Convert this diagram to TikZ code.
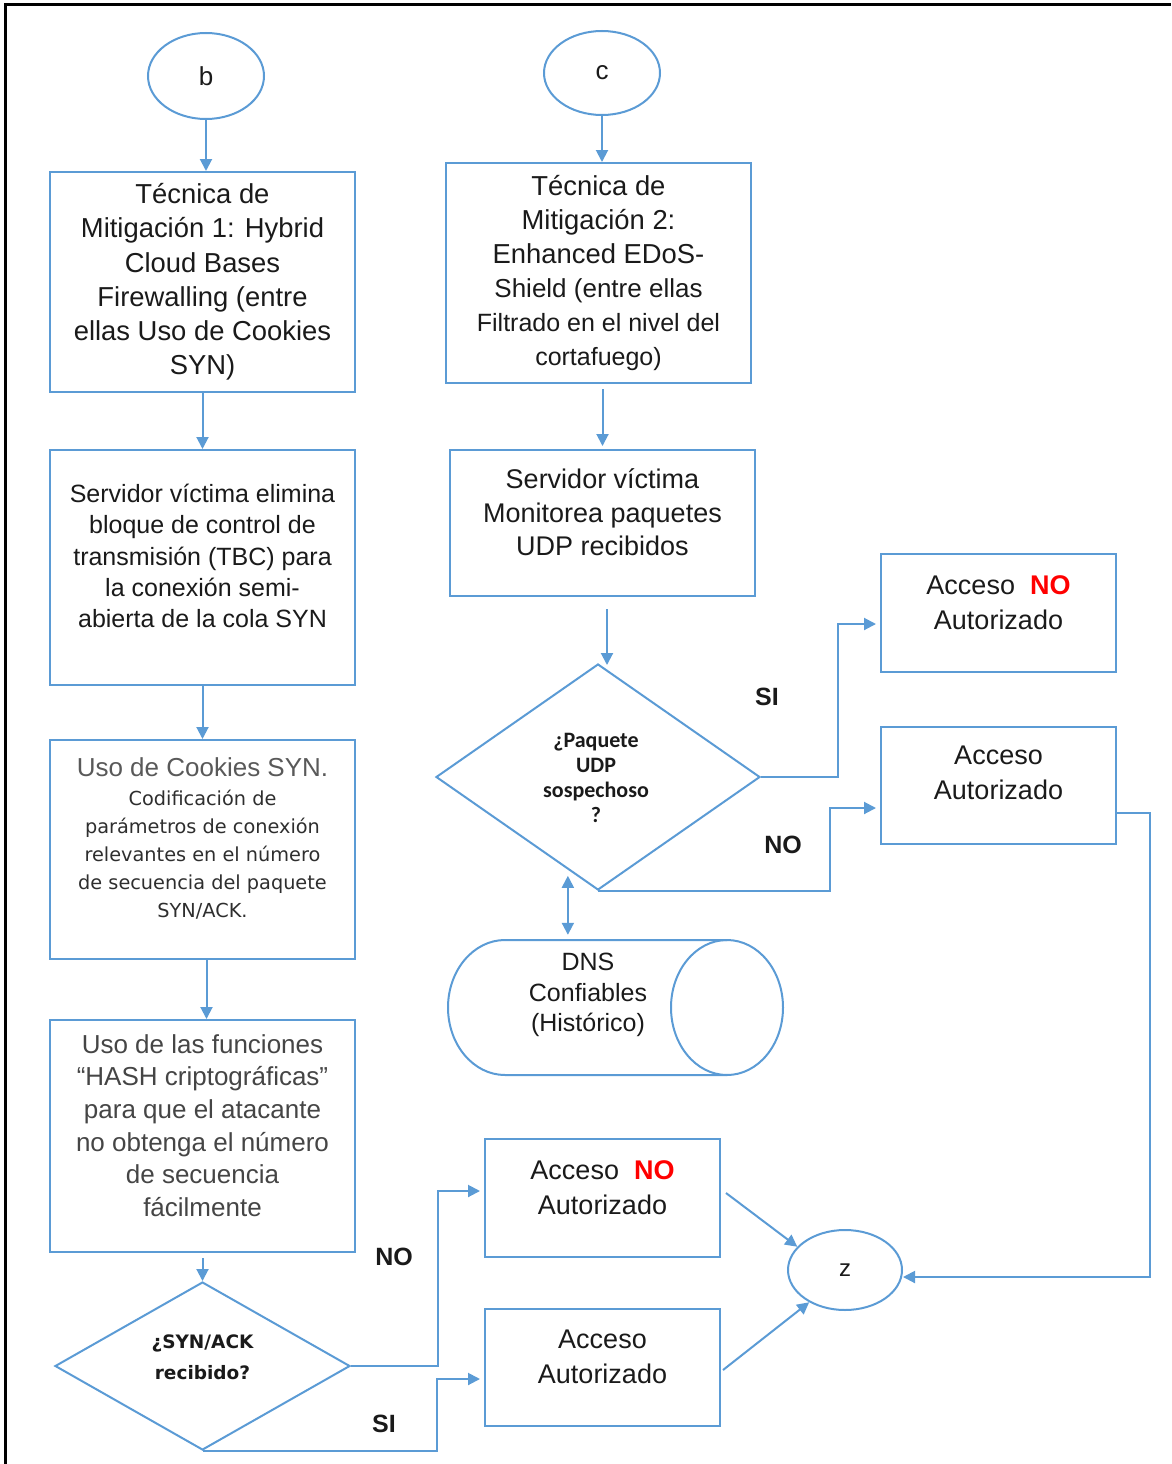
\documentclass[tikz,border=0pt]{standalone}
\usepackage{fontspec}
\setmainfont{Liberation Sans}
\newfontfamily\dejavu{DejaVu Sans}
\newfontfamily\carlito{Carlito}
\usetikzlibrary{arrows.meta,shapes.geometric,calc}
\definecolor{flow}{HTML}{5B9BD5}
\definecolor{ink}{HTML}{1A1A1A}
\definecolor{greyA}{HTML}{595959}
\definecolor{greyB}{HTML}{2E2E2E}
\definecolor{greyC}{HTML}{454545}
\definecolor{alarm}{HTML}{FF0000}

\begin{document}
\begin{tikzpicture}[x=1pt,y=-1pt,
  ln/.style={draw=flow,line width=2pt},
  arr/.style={ln,-{Triangle[length=12pt,width=12pt]}},
  dbl/.style={ln,{Triangle[length=12pt,width=12pt]}-{Triangle[length=12pt,width=12pt]}},
  proc/.style={rectangle,draw=flow,line width=2pt,inner sep=0pt},
  term/.style={ellipse,draw=flow,line width=2pt,inner sep=0pt,text=ink,
    font=\fontsize{26}{30}\selectfont},
  decis/.style={diamond,draw=flow,line width=2pt,inner sep=0pt},
  txt/.style={align=center,inner sep=0pt,text=ink},
  lbl/.style={inner sep=0pt,text=ink,font=\bfseries\fontsize{25}{28}\selectfont}
]
\useasboundingbox (0,0) rectangle (1171,1464);

% page frame (top and left edges)
\draw[black,line width=3pt] (5,1464) -- (5,5) -- (1171,5);

% ---------------- left column ----------------
\node[term,minimum width=116pt,minimum height=86pt] (b) at (206,76) {b};

\node[proc,minimum width=305pt,minimum height=220pt] (t1) at (202.5,282) {};
\node[txt,font=\fontsize{27.4}{34.2}\selectfont] (t1t) at (202.5,282)
  {Técnica de\\Mitigación 1: Hybrid\\Cloud Bases\\Firewalling (entre\\ellas Uso de Cookies\\SYN)};

\node[proc,minimum width=305pt,minimum height=235pt] (s1) at (202.5,567.5) {};
\node[txt,font=\fontsize{25}{31.2}\selectfont] (s1t) at (202.5,556)
  {Servidor víctima elimina\\bloque de control de\\transmisión (TBC) para\\la conexión semi-\\abierta de la cola SYN};

\node[proc,minimum width=305pt,minimum height=219pt] (cs) at (202.5,849.5) {};
\node[txt,text=greyB,font=\dejavu\fontsize{19.3}{28}\selectfont] (cst) at (202.5,838)
  {{\rmfamily\fontsize{26}{30}\selectfont\color{greyA}Uso de Cookies SYN.}\\[1pt]
   Codificación de\\parámetros de conexión\\relevantes en el número\\de secuencia del paquete\\SYN/ACK.};

\node[proc,minimum width=305pt,minimum height=232pt] (hs) at (202.5,1136) {};
\node[txt,text=greyC,font=\fontsize{26}{32.6}\selectfont] (hst) at (202.5,1125.5)
  {Uso de las funciones\\“HASH criptográficas”\\para que el atacante\\no obtenga el número\\de secuencia\\fácilmente};

\node[decis,minimum width=295pt,minimum height=168pt] (d1) at (202.5,1366) {};
\node[txt,font=\dejavu\bfseries\fontsize{18.5}{31}\selectfont] (d1t) at (202.5,1357)
  {¿SYN/ACK\\recibido?};

\node[proc,minimum width=235pt,minimum height=118pt] (acn2) at (602.5,1198) {};
\node[txt,font=\fontsize{27}{35}\selectfont] (acn2t) at (602.5,1187.5)
  {Acceso\ \ {\bfseries\color{alarm}NO}\\Autorizado};

\node[proc,minimum width=235pt,minimum height=117pt] (acc2) at (602.5,1367.5) {};
\node[txt,font=\fontsize{27}{35}\selectfont] (acc2t) at (602.5,1356.5)
  {Acceso\\Autorizado};

\node[lbl] (no1) at (394,1257) {NO};
\node[lbl] (si1) at (384,1424) {SI};

% ---------------- right column ----------------
\node[term,minimum width=116pt,minimum height=84pt] (c) at (602,73) {c};

\node[proc,minimum width=305pt,minimum height=220pt] (t2) at (598.5,273) {};
\node[txt,font=\fontsize{27.4}{34}\selectfont] (t2t) at (598.5,273)
  {Técnica de\\Mitigación 2:\\Enhanced EDoS-\\{\fontsize{26}{34}\selectfont Shield (entre ellas}\\
   {\fontsize{25}{33}\selectfont Filtrado en el nivel del}\\{\fontsize{25}{32}\selectfont cortafuego)}};

\node[proc,minimum width=305pt,minimum height=146pt] (s2) at (602.5,523) {};
\node[txt,font=\fontsize{27}{33.5}\selectfont] (s2t) at (602.5,512.5)
  {Servidor víctima\\Monitorea paquetes\\UDP recibidos};

\node[decis,minimum width=324pt,minimum height=226pt] (d2) at (598,777) {};
\node[txt,font=\carlito\bfseries\fontsize{22}{25}\selectfont] (d2t) at (596,778)
  {¿Paquete\\UDP\\sospechoso\\?};

\node[proc,minimum width=235pt,minimum height=118pt] (acn1) at (998.5,613) {};
\node[txt,font=\fontsize{27}{35}\selectfont] (acn1t) at (998.5,602.5)
  {Acceso\ \ {\bfseries\color{alarm}NO}\\Autorizado};

\node[proc,minimum width=235pt,minimum height=117pt] (acc1) at (998.5,785.5) {};
\node[txt,font=\fontsize{27}{35}\selectfont] (acc1t) at (998.5,772.5)
  {Acceso\\Autorizado};

\node[lbl] (si2) at (767,697) {SI};
\node[lbl] (no2) at (783,845) {NO};

% trusted DNS store, drawn as a lying cylinder
\node[inner sep=0pt,minimum width=335pt,minimum height=135pt] (dns) at (615.5,1007.5) {};
\draw[ln] (727,940) -- (505,940)
  arc[start angle=270,end angle=90,x radius=57,y radius=67.5] -- (727,1075);
\draw[ln] (727,1007.5) ellipse[x radius=56,y radius=67.5];
\node[txt,font=\fontsize{25}{30.5}\selectfont] (dnst) at (588,995)
  {DNS\\Confiables\\(Histórico)};

\node[term,minimum width=114pt,minimum height=80pt,font=\fontsize{24}{28}\selectfont] (z) at (845,1270) {z};

% ---------------- connectors ----------------
\draw[arr] (b) -- (b |- t1.north);
\draw[arr] (t1.south) -- (s1.north);
\draw[arr] (s1.south) -- (cs.north);
\draw[arr] ($(cs.south)+(4,0)$) -- ($(hs.north)+(4,0)$);
\draw[arr] ($(hs.south)+(0,5)$) -- (d1.north);

\draw[arr,shorten >=4pt] (d1.east) -- ++(87,0) |- ($(acn2.west)+(0,-7)$);
\draw[arr,shorten >=4pt] (d1.south) -- ++(234,0) |- ($(acc2.west)+(0,11.5)$);

\draw[arr] (c) -- (c |- t2.north);
\draw[arr] ($(t2.south)+(4,5)$) -- ($(s2.north)+(0,-3)$);
\draw[arr] ($(s2.south)+(4.5,12)$) -- ($(d2.north)+(9,2)$);

\draw[arr,shorten >=4pt] (d2.east) -- ++(77,0) |- ($(acn1.west)+(0,11)$);
\draw[arr,shorten >=4pt] (d2.south) -- ++(232,0) |- ($(acc1.west)+(0,22.5)$);

\draw[dbl] ($(dns.north west)!0.358!(dns.north east)+(0,-64)$)
        -- ($(dns.north west)!0.358!(dns.north east)+(0,-5)$);

\draw[arr] ($(acc1.east)+(0,27.5)$) -- ++(33,0) |- ($(z.east)+(0,7)$);
\draw[arr] ($(acn2.east)+(5,-5)$) -- (z.154);
\draw[arr] ($(acc2.east)+(2,2.5)$) -- (z.222);
\end{tikzpicture}
\end{document}
